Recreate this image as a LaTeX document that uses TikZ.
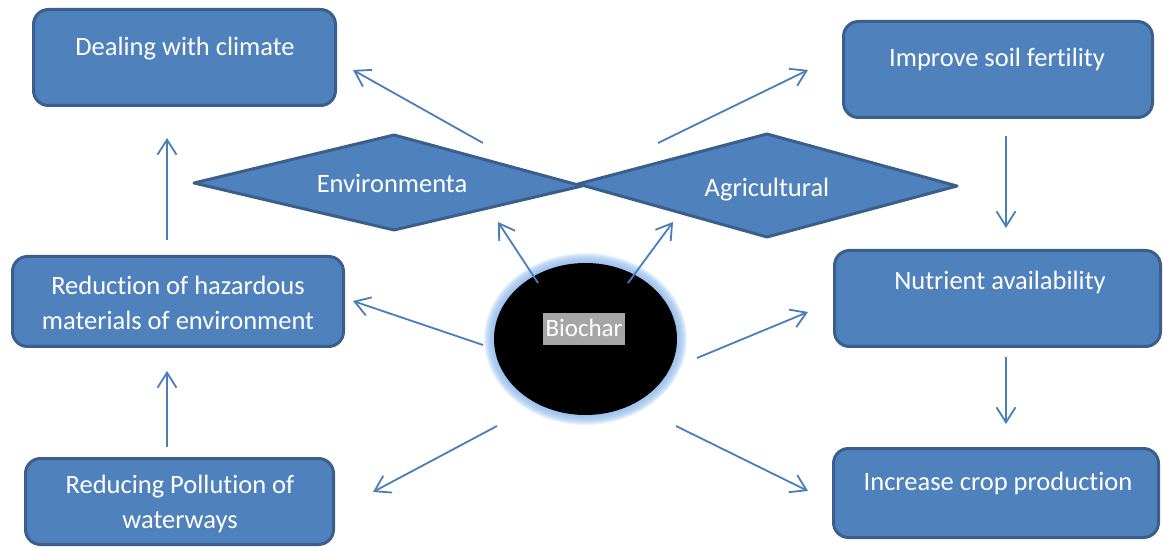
\documentclass[tikz,border=0pt]{standalone}
\usepackage{fontspec}
\setmainfont{Carlito}[Ligatures=NoCommon]
\usetikzlibrary{arrows.meta,shapes.geometric}
\definecolor{boxfill}{HTML}{4F81BD}
\definecolor{boxline}{HTML}{3A5F8C}
\definecolor{arrowblue}{HTML}{4A7EBB}
\definecolor{glowblue}{HTML}{8DB8EA}
\definecolor{labelgray}{HTML}{A6A6A6}
\tikzset{
  box/.style={draw=boxline, line width=3pt, fill=boxfill, rounded corners=15pt, inner sep=0pt},
  shapebox/.style={draw=boxline, line width=3pt, fill=boxfill, line join=round},
  txt/.style={text=white, font=\fontsize{26.5}{35}\selectfont, anchor=base, inner sep=0pt},
  conn/.style={draw=arrowblue, line width=1.8pt, -{Straight Barb[length=15pt,width=19pt,line width=1.8pt]}},
}
\begin{document}
\begin{tikzpicture}[x=1pt,y=-1pt]
\useasboundingbox (0,0) rectangle (1163,548);

% outcome boxes
\node[box, minimum width=302pt, minimum height=96pt] (dc)  at (184.5,57.5) {};
\node[box, minimum width=309pt, minimum height=96pt] (isf) at (998,69.5) {};
\node[box, minimum width=331pt, minimum height=90pt] (roh) at (178,301.5) {};
\node[box, minimum width=308pt, minimum height=86pt] (rpw) at (179.5,501.5) {};
\node[box, minimum width=326pt, minimum height=96pt] (na)  at (997.5,298.5) {};
\node[box, minimum width=325pt, minimum height=89pt] (icp) at (996,493) {};

\node[txt] (dct)  at (185,56) {Dealing with climate};
\node[txt] (isft) at (997,67) {Improve soil fertility};
\node[txt] (roht) at (178,295) {\begin{tabular}[t]{@{}c@{}}Reduction of hazardous\\materials of environment\end{tabular}};
\node[txt] (rpwt) at (180,493) {\begin{tabular}[t]{@{}c@{}}Reducing Pollution of\\waterways\end{tabular}};
\node[txt] (nat)  at (1000,290) {Nutrient availability};
\node[txt] (icpt) at (998,490) {Increase crop production};

% the two category diamonds
\coordinate (envL) at (194,183);
\coordinate (envT) at (394,135);
\coordinate (envR) at (582,186);
\coordinate (envB) at (394,230);
\coordinate (agrL) at (578,184);
\coordinate (agrT) at (767,134);
\coordinate (agrR) at (957,186);
\coordinate (agrB) at (767,237);
\path[shapebox] (envL) -- (envT) -- (envR) -- (envB) -- cycle;
\path[shapebox] (agrL) -- (agrT) -- (agrR) -- (agrB) -- cycle;
\node[txt] (envt) at (392,193) {Environmenta};
\node[txt] (agrt) at (767,197) {Agricultural};

% soft glow around the central ellipse
\foreach \g in {10,9,...,1}
  \fill[glowblue, opacity=0.17] (585.5,339) ellipse [x radius={91.5pt+\g pt}, y radius={76pt+\g pt}];
\node[ellipse, fill=black, minimum width=183pt, minimum height=152pt, inner sep=0pt] (bio) at (585.5,339) {};
\node[txt, fill=labelgray, inner xsep=2.5pt, inner ysep=0pt, text height=24pt, text depth=8pt, font=\fontsize{25}{30}\selectfont] (biot) at (584,337) {Biochar};

% arrow end points
\coordinate (s1) at (483,143);  \coordinate (e1) at (353,70);
\coordinate (s2) at (658,143);  \coordinate (e2) at (808,70);
\coordinate (s3) at (167,240);  \coordinate (e3) at (167,138);
\coordinate (s4) at (1006,136); \coordinate (e4) at (1006,228);
\coordinate (s5) at (538,283);  \coordinate (e5) at (498,222);
\coordinate (s6) at (628,283);  \coordinate (e6) at (673,222);
\coordinate (s7) at (483,345);  \coordinate (e7) at (353,301);
\coordinate (s8) at (697,358);  \coordinate (e8) at (808,312);
\coordinate (s9) at (167,447);  \coordinate (e9) at (167,371);
\coordinate (s10) at (1006,357); \coordinate (e10) at (1006,424);
\coordinate (s11) at (497,426); \coordinate (e11) at (373,492);
\coordinate (s12) at (676,426); \coordinate (e12) at (808,491);

\foreach \k in {1,...,12}
  \draw[conn] (s\k) -- (e\k);
\end{tikzpicture}
\end{document}
